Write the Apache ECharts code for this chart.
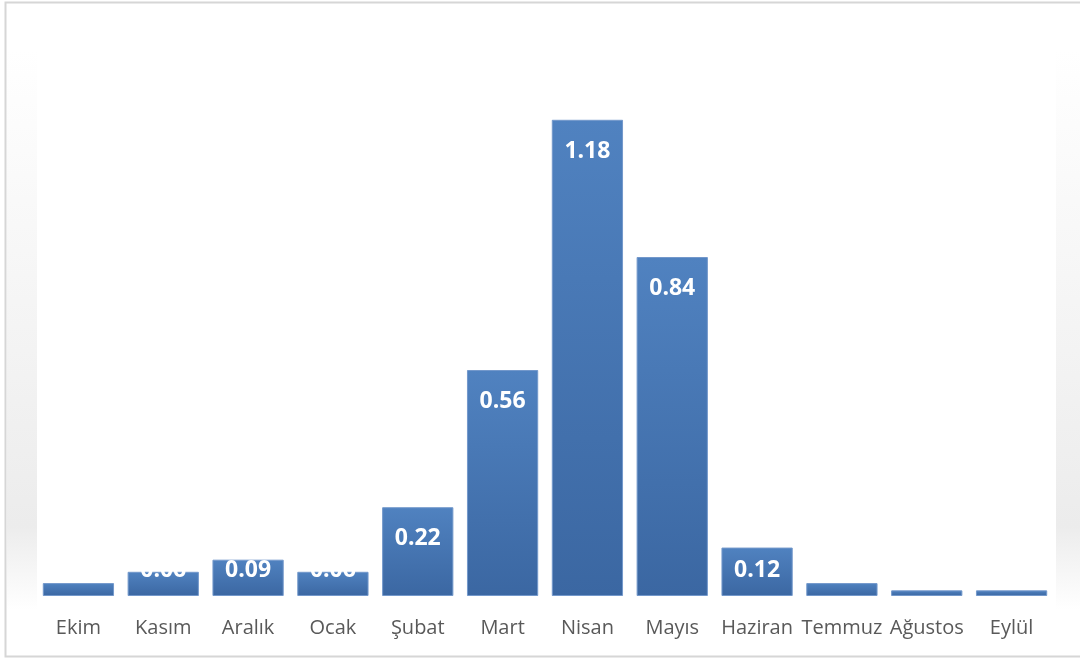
<!DOCTYPE html>
<html>
<head>
<meta charset="utf-8">
<script src="https://cdn.jsdelivr.net/npm/echarts@6/dist/echarts.min.js"></script>
<style>
  html, body { margin: 0; padding: 0; background: #ffffff; }
  #chart { width: 1080px; height: 659px; }
</style>
</head>
<body>
<div id="chart"></div>
<script>
// Monthly values, October through September
const months = ['Ekim', 'Kasım', 'Aralık', 'Ocak', 'Şubat', 'Mart', 'Nisan', 'Mayıs', 'Haziran', 'Temmuz', 'Ağustos', 'Eylül'];
const values = [0.032, 0.06, 0.09, 0.06, 0.22, 0.56, 1.18, 0.84, 0.12, 0.032, 0.014, 0.014];

const barFill = new echarts.graphic.LinearGradient(0, 0, 0, 1, [
  { offset: 0, color: '#5082c0' },
  { offset: 1, color: '#3b67a2' }
]);

// Tall bars carry their value at the inside top; short bars near the base; tiny bars none
const seriesData = values.map(function (v) {
  const item = { value: v };
  if (v < 0.05) {
    item.label = { show: false };
  } else if (v < 0.15) {
    item.label = { position: 'insideBottom', distance: 14 };
  }
  return item;
});

const sideShade = function (x, w) {
  return {
    type: 'rect',
    silent: true,
    z: -1,
    shape: { x: x, y: 50, width: w, height: 560 },
    style: {
      fill: new echarts.graphic.LinearGradient(0, 0, 0, 1, [
        { offset: 0, color: '#ffffff' },
        { offset: 0.85, color: '#ececec' },
        { offset: 1, color: '#ffffff' }
      ])
    }
  };
};

const chart = echarts.init(document.getElementById('chart'), null, { renderer: 'canvas' });
chart.setOption({
  backgroundColor: '#ffffff',
  animation: false,
  graphic: [
    sideShade(7, 30),
    sideShade(1056, 24),
    {
      type: 'rect',
      silent: true,
      z: -1,
      shape: { x: 5.5, y: 2.5, width: 1080, height: 654 },
      style: { fill: 'none', stroke: '#d6d6d6', lineWidth: 2 }
    }
  ],
  grid: { left: 36, right: 26, top: 31, bottom: 63, containLabel: false },
  xAxis: {
    type: 'category',
    data: months,
    axisLine: { show: false },
    axisTick: { show: false },
    axisLabel: {
      color: '#595959',
      fontFamily: 'Open Sans',
      fontSize: 20,
      margin: 22,
      interval: 0
    }
  },
  yAxis: {
    type: 'value',
    min: 0,
    max: 1.4,
    show: false,
    splitLine: { show: false }
  },
  series: [{
    type: 'bar',
    data: seriesData,
    barCategoryGap: '16%',
    itemStyle: {
      color: barFill,
      borderColor: '#7398cb',
      borderWidth: 1
    },
    label: {
      show: true,
      position: 'insideTop',
      distance: 20,
      color: '#ffffff',
      fontFamily: 'Open Sans',
      fontWeight: 'bold',
      fontSize: 23,
      formatter: function (p) { return p.value.toFixed(2); }
    }
  }]
});
</script>
</body>
</html>
